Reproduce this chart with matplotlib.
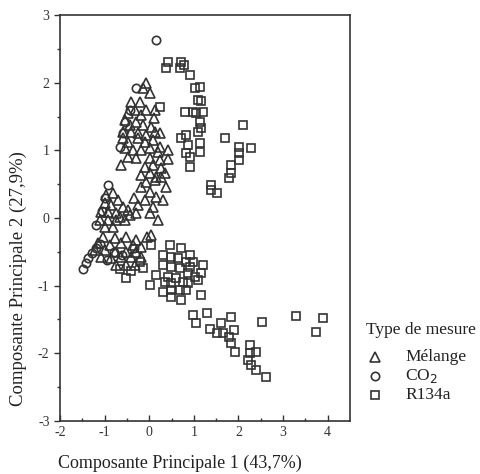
import matplotlib.pyplot as plt
from matplotlib.lines import Line2D

plt.rcParams['font.family'] = ['Liberation Serif', 'DejaVu Serif']
plt.rcParams['axes.unicode_minus'] = False

# Scores on the first two principal components
melange_x = [-0.07, -0.13, 0.02, -0.31, -0.18, -0.07, 0.13, -0.47, -0.29, -0.13,
             0.04, 0.13, 0.25, -0.54, -0.43, -0.58, -0.40, -0.25, -0.07, -0.58,
             -0.47, -0.25, -0.09, 0.09, 0.25, 0.43, -0.54, -0.36, -0.18, 0.02,
             0.20, -0.47, -0.29, -0.63, 0.02, 0.25, 0.43, -0.09, 0.09, 0.27,
             -0.18, 0.02, 0.16, 0.36, -0.07, 0.13, 0.27, 0.38, -0.18, 0.02,
             0.16, -0.09, 0.31, 0.09, -0.25, 0.02, 0.20, -0.40, -0.20, 0.10,
             -0.81, -0.97, -0.70, -0.99, -0.85, -0.58, -0.47, -1.08, -0.92, -0.74,
             -0.43, -0.29, -1.10, -0.92, -0.74, -0.54, -0.99, -0.81, -0.65, -0.35,
             -1.04, -0.77, -0.52, -0.29, -0.04, -1.15, -0.88, -0.63, -0.36, -0.18,
             -1.22, -0.99, -0.77, -0.52, -0.29, -1.08, -0.85, -0.63, -0.40, -0.18,
             -0.74, -0.52, -0.31, 0.04]
melange_y = [2.00, 1.92, 1.85, 1.60, 1.52, 1.60, 1.60, 1.55, 1.42, 1.38,
             1.35, 1.27, 1.26, 1.45, 1.38, 1.27, 1.27, 1.26, 1.23, 1.18,
             1.12, 1.18, 1.12, 1.15, 1.05, 1.01, 1.04, 1.01, 1.01, 1.04,
             0.98, 0.90, 0.89, 0.78, 0.89, 0.86, 0.88, 0.75, 0.78, 0.74,
             0.64, 0.67, 0.61, 0.67, 0.53, 0.56, 0.61, 0.46, 0.46, 0.38,
             0.31, 0.27, 0.27, 0.16, 0.19, 0.07, -0.03, 1.72, 1.72, 1.48,
             0.37, 0.34, 0.27, 0.22, 0.19, 0.16, 0.12, 0.09, 0.09, 0.07,
             0.04, 0.07, -0.03, -0.03, -0.03, -0.03, -0.13, -0.13, 0.02, 0.30,
             -0.28, -0.30, -0.28, -0.33, -0.28, -0.37, -0.40, -0.37, -0.40, -0.43,
             -0.47, -0.47, -0.50, -0.50, -0.50, -0.58, -0.59, -0.58, -0.58, -0.58,
             -0.69, -0.69, -0.69, -0.25]

co2_x = [0.16, -0.29, -0.43, -0.54, -0.58, -0.65, -0.92, -0.99, -1.06, -1.19,
         -1.48, -1.42, -1.37, -1.28, -1.19, -1.10, -0.95, -0.60, -0.35, -0.80]
co2_y = [2.63, 1.93, 1.60, 1.42, 1.26, 1.05, 0.49, 0.30, 0.10, -0.10,
         -0.75, -0.66, -0.59, -0.52, -0.44, -0.38, -0.62, -0.55, -0.45, -0.50]

r134a_x = [0.38, 0.43, 0.72, 0.70, 0.79, 0.92, 1.03, 1.15, 1.10, 1.17,
           0.81, 0.99, 1.06, 1.21, 1.15, 1.17, 1.10, 0.83, 0.72, 0.88,
           1.15, 0.83, 0.92, 1.15, 0.92, 2.11, 1.69, 2.02, 2.29, 2.02,
           2.02, 1.84, 1.84, 1.80, 1.39, 1.51, 1.39, 0.25,
           0.04, 0.47, 0.72, 0.31, 0.49, 0.65, 0.92, 0.83, 0.99, 0.31,
           0.49, 0.70, 0.92, 1.21, 1.17, 0.16, 0.43, 0.61, 0.88, 1.03,
           0.02, 0.36, 0.49, 0.76, 0.88, 1.10, 0.31, 0.49, 0.70, 0.83,
           0.49, 0.72, 1.17, -0.52, -0.13, -0.65, -0.40, -0.20,
           0.99, 1.06, 1.30, 1.37, 1.51, 1.62, 1.66, 1.84, 1.89, 1.78,
           1.84, 1.93, 2.52, 2.27, 2.40, 2.27, 2.22, 2.29, 2.40, 2.61,
           3.30, 3.89, 3.75]
r134a_y = [2.22, 2.31, 2.31, 2.22, 2.26, 2.12, 1.92, 1.94, 1.75, 1.73,
           1.57, 1.57, 1.55, 1.57, 1.42, 1.33, 1.27, 1.23, 1.18, 1.08,
           1.11, 0.96, 0.90, 0.98, 0.75, 1.38, 1.18, 1.05, 1.04, 0.96,
           0.86, 0.78, 0.67, 0.59, 0.49, 0.37, 0.41, 1.64,
           -0.40, -0.40, -0.44, -0.55, -0.58, -0.59, -0.55, -0.65, -0.65, -0.70,
           -0.72, -0.74, -0.72, -0.70, -0.81, -0.84, -0.87, -0.89, -0.81, -0.87,
           -0.99, -0.95, -0.96, -0.95, -0.96, -0.92, -1.09, -1.07, -1.07, -1.07,
           -1.17, -1.21, -1.14, -0.89, -0.74, -0.75, -0.78, -0.65,
           -1.43, -1.55, -1.41, -1.64, -1.70, -1.55, -1.70, -1.46, -1.66, -1.76,
           -1.85, -1.98, -1.54, -1.88, -1.98, -2.00, -2.10, -2.17, -2.25, -2.35,
           -1.45, -1.48, -1.69]

legend_labels = ['Mélange', 'CO$_2$', 'R134a']
legend_markers = ['^', 'o', 's']

ink = '#333333'

fig = plt.figure(figsize=(4.8, 4.74), dpi=100)
ax = fig.add_axes([0.125, 0.112, 0.604, 0.856])

ax.plot(r134a_x, r134a_y, 's', ms=6, mfc='none', mec=ink, mew=1.2, linestyle='none')
ax.plot(melange_x, melange_y, '^', ms=7, mfc='none', mec=ink, mew=1.2, linestyle='none')
ax.plot(co2_x, co2_y, 'o', ms=6, mfc='none', mec=ink, mew=1.2, linestyle='none')

ax.set_xlim(-2, 4.5)
ax.set_ylim(-3, 3)
ax.set_xticks(range(-2, 5))
ax.set_yticks(range(-3, 4))
ax.set_xticks([v + 0.5 for v in range(-2, 4)], minor=True)
ax.set_yticks([v + 0.5 for v in range(-3, 3)], minor=True)
ax.tick_params(axis='x', which='both', direction='in', labelsize=10, colors=ink)
ax.tick_params(axis='y', which='both', direction='out', labelsize=10, colors=ink)
ax.tick_params(which='major', length=4, width=1)
ax.tick_params(which='minor', length=2.5, width=1)
for s in ax.spines.values():
    s.set_color(ink)
    s.set_linewidth(1.2)

fig.text(58 / 480, 1 - 463 / 474, 'Composante Principale 1 (43,7%)', fontsize=13,
         ha='left', va='center', color='#222222')
fig.text(18 / 480, 1 - 279 / 474, 'Composante Principale 2 (27,9%)', fontsize=13.5,
         ha='center', va='center', rotation=90, color='#222222')

# legend laid out by hand, as in the original figure
fig.text(366 / 480, 1 - 330 / 474, 'Type de mesure', fontsize=12.5,
         ha='left', va='center', color='#222222')
for i, (mk, lab) in enumerate(zip(legend_markers, legend_labels)):
    yy = 1 - (357 + 19 * i) / 474
    fig.add_artist(Line2D([375 / 480], [yy], transform=fig.transFigure, marker=mk,
                          ms=7 if mk == '^' else 6, mfc='none', mec=ink, mew=1.2, ls='none'))
    fig.text(405 / 480, yy, lab, fontsize=12.5, ha='left', va='center', color='#222222')

fig.savefig('out.png', dpi=100)
